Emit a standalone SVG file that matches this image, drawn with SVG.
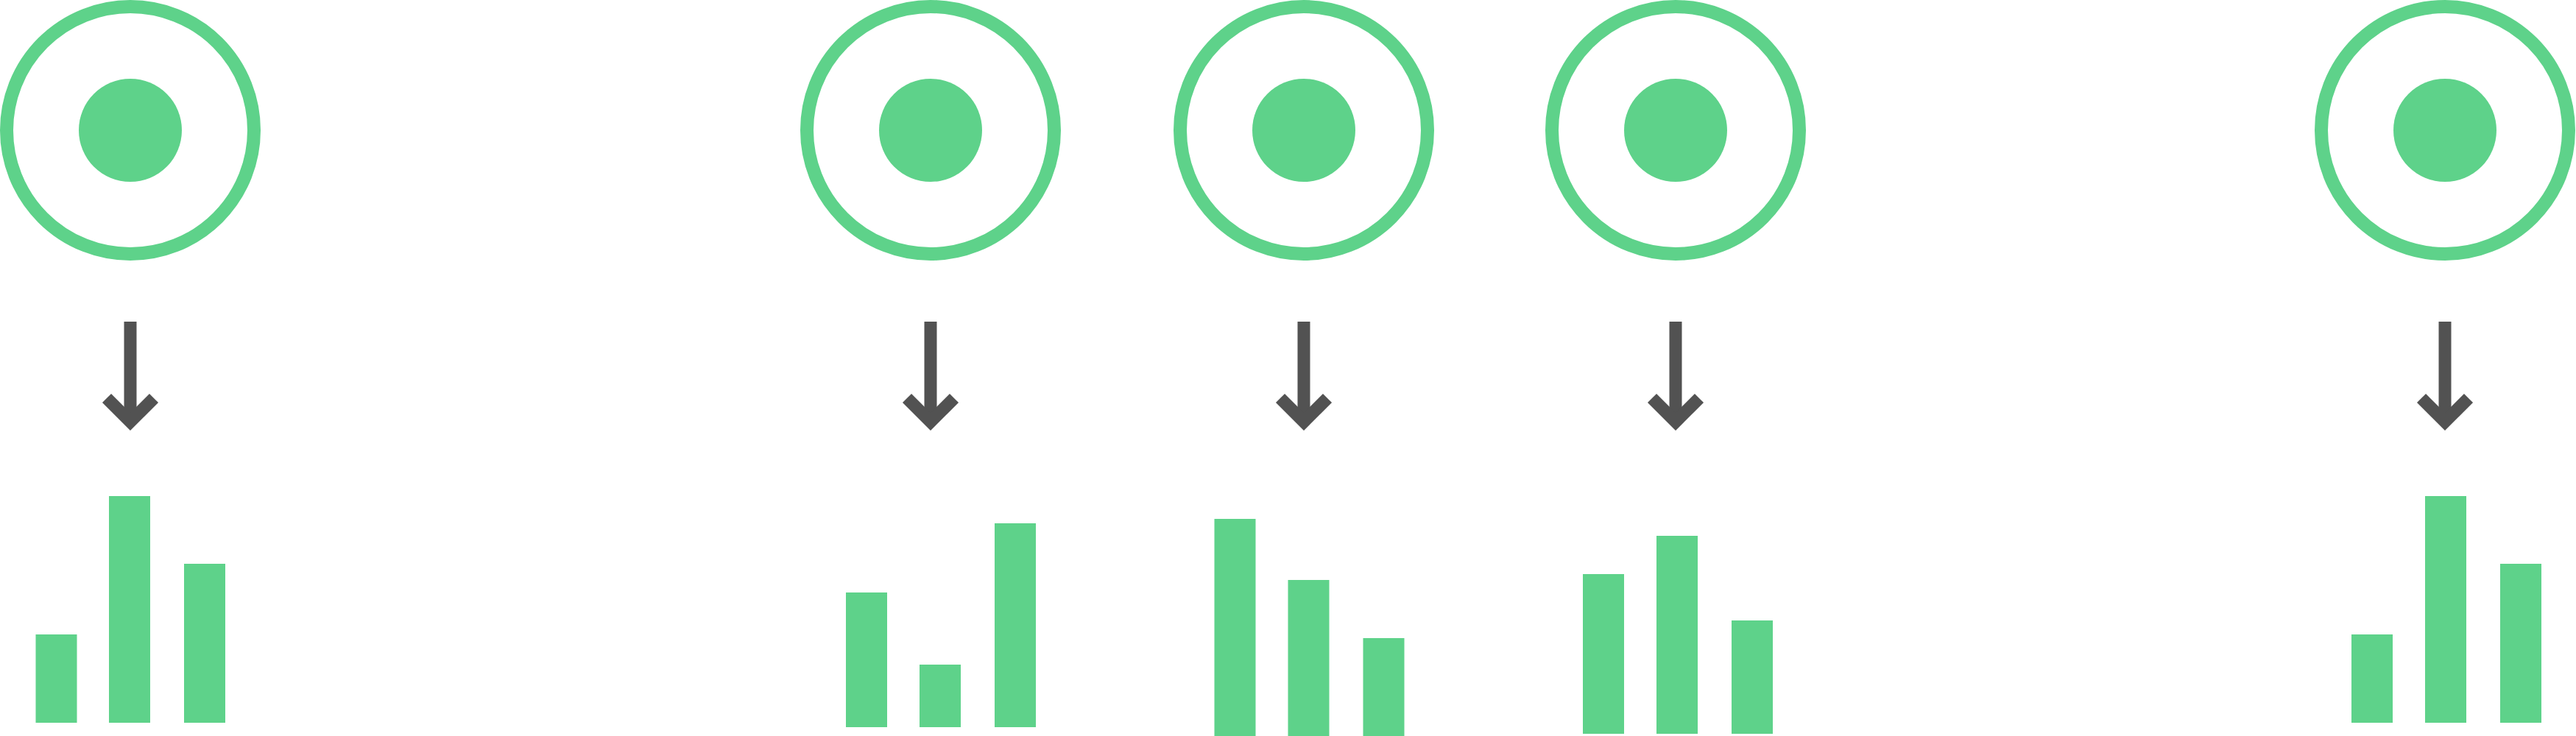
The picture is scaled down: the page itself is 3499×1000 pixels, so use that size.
<svg xmlns="http://www.w3.org/2000/svg" width="3499" height="1000" viewBox="0 0 3499 1000">
<style>
.ring{fill:none;stroke:#5ed28a;stroke-width:18}
.dot{fill:#5ed28a}
.bar{fill:#5ed28a}
.stem{stroke:#525252;stroke-width:17;fill:none}
.head{stroke:#525252;stroke-width:17;fill:none;stroke-linejoin:miter;stroke-miterlimit:4}
</style>
<rect width="3499" height="1000" fill="#ffffff"/>
<g id="node-1">
<circle class="ring" cx="177" cy="177" r="168"/>
<circle class="dot" cx="177" cy="177" r="70"/>
</g>
<g id="node-2">
<circle class="ring" cx="1264" cy="177" r="168"/>
<circle class="dot" cx="1264" cy="177" r="70"/>
</g>
<g id="node-3">
<circle class="ring" cx="1771" cy="177" r="168"/>
<circle class="dot" cx="1771" cy="177" r="70"/>
</g>
<g id="node-4">
<circle class="ring" cx="2276" cy="177" r="168"/>
<circle class="dot" cx="2276" cy="177" r="70"/>
</g>
<g id="node-5">
<circle class="ring" cx="3321" cy="177" r="168"/>
<circle class="dot" cx="3321" cy="177" r="70"/>
</g>
<g id="connectors">
<g transform="translate(177,0)"><line class="stem" x1="0" y1="437" x2="0" y2="570"/><path class="head" d="M-32,541 L0,573 L32,541"/></g>
<g transform="translate(1264,0)"><line class="stem" x1="0" y1="437" x2="0" y2="570"/><path class="head" d="M-32,541 L0,573 L32,541"/></g>
<g transform="translate(1771,0)"><line class="stem" x1="0" y1="437" x2="0" y2="570"/><path class="head" d="M-32,541 L0,573 L32,541"/></g>
<g transform="translate(2276,0)"><line class="stem" x1="0" y1="437" x2="0" y2="570"/><path class="head" d="M-32,541 L0,573 L32,541"/></g>
<g transform="translate(3321,0)"><line class="stem" x1="0" y1="437" x2="0" y2="570"/><path class="head" d="M-32,541 L0,573 L32,541"/></g>
</g>
<g id="chart-1">
<rect class="bar" x="48.5" y="862" width="56" height="120"/>
<rect class="bar" x="148" y="674" width="56" height="308"/>
<rect class="bar" x="250" y="766" width="56" height="216"/>
</g>
<g id="chart-2">
<rect class="bar" x="1149" y="805" width="56" height="183"/>
<rect class="bar" x="1249" y="903" width="56" height="85"/>
<rect class="bar" x="1351" y="711" width="56" height="277"/>
</g>
<g id="chart-3">
<rect class="bar" x="1649.5" y="705" width="56" height="295"/>
<rect class="bar" x="1749.5" y="788" width="56" height="212"/>
<rect class="bar" x="1851.5" y="867" width="56" height="133"/>
</g>
<g id="chart-4">
<rect class="bar" x="2150" y="780" width="56" height="217"/>
<rect class="bar" x="2250" y="728" width="56" height="269"/>
<rect class="bar" x="2352" y="843" width="56" height="154"/>
</g>
<g id="chart-5">
<rect class="bar" x="3194" y="862" width="56" height="120"/>
<rect class="bar" x="3294" y="674" width="56" height="308"/>
<rect class="bar" x="3396" y="766" width="56" height="216"/>
</g>
</svg>
